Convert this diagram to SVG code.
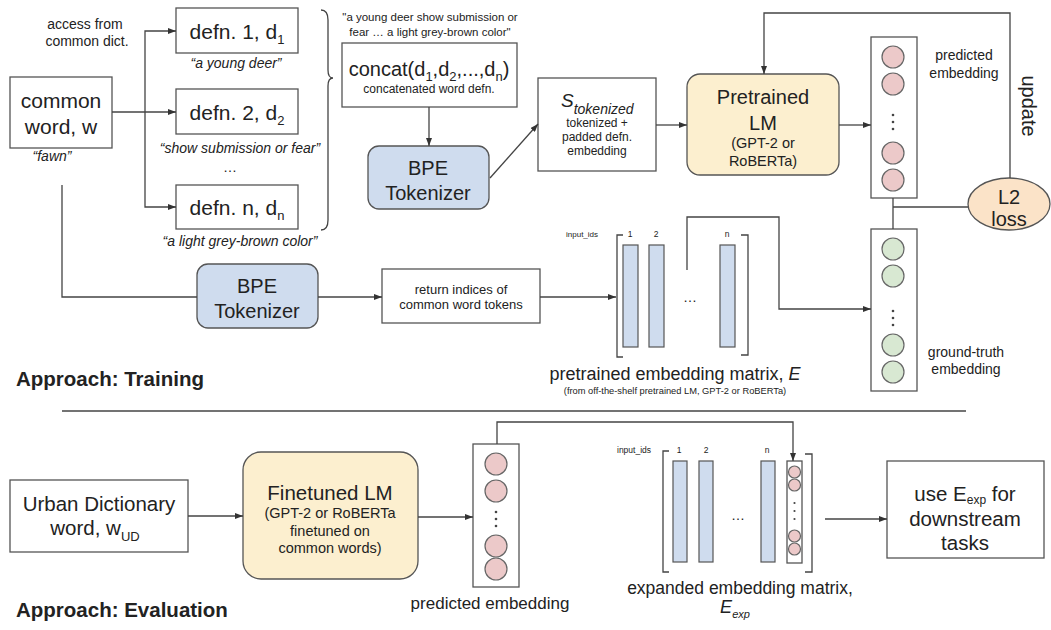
<svg xmlns="http://www.w3.org/2000/svg" width="1051" height="630" viewBox="0 0 1051 630">
<defs>
<marker id="arr" markerWidth="8" markerHeight="6" refX="8" refY="3" orient="auto" markerUnits="userSpaceOnUse"><path d="M0,0 L8,3 L0,6 z" fill="#333"/></marker>
<style>
text{font-family:"Liberation Sans",Arial,Helvetica,sans-serif;fill:#222}
.box{fill:#fff;stroke:#555;stroke-width:1.3}
.blue{fill:#cfdcee;stroke:#555;stroke-width:1.3}
.yel{fill:#fcefcf;stroke:#555;stroke-width:1.3}
.col{fill:#cfdcee;stroke:#555;stroke-width:1.2}
.pink{fill:#ecc9c9;stroke:#666;stroke-width:1.2}
.green{fill:#d8e8d2;stroke:#666;stroke-width:1.2}
.ln{fill:none;stroke:#444;stroke-width:1.3}
.arr{fill:none;stroke:#444;stroke-width:1.3;marker-end:url(#arr)}
.c{text-anchor:middle}
.big{font-size:21px}
.mid{font-size:14.5px}
.sm{font-size:14px}
.it{font-style:italic}
.dot{fill:#444}
</style>
</defs>

<!-- ================= TRAINING ================= -->
<g id="access-label">
<text class="c sm" x="85" y="29">access from</text>
<text class="c sm" x="87" y="46">common dict.</text>
</g>

<g id="common-word">
<rect class="box" x="10" y="77" width="102" height="71"/>
<text class="c big" x="61" y="108">common</text>
<text class="c big" x="61" y="134">word, w</text>
<text class="c sm it" x="52" y="161">“fawn”</text>
</g>

<g id="defn1">
<rect class="box" x="176" y="8" width="122" height="45"/>
<text class="c big" x="237" y="39">defn. 1, d<tspan font-size="13" dy="5">1</tspan></text>
<text class="c sm it" x="236" y="68">“a young deer”</text>
</g>
<g id="defn2">
<rect class="box" x="176" y="89" width="122" height="45"/>
<text class="c big" x="237" y="120">defn. 2, d<tspan font-size="13" dy="5">2</tspan></text>
<text class="c sm it" x="240" y="153">“show submission or fear”</text>
<text class="c sm" x="230" y="172">…</text>
</g>
<g id="defnn">
<rect class="box" x="176" y="185" width="122" height="44"/>
<text class="c big" x="237" y="215">defn. n, d<tspan font-size="13" dy="5">n</tspan></text>
<text class="c sm it" x="240" y="246">“a light grey-brown color”</text>
</g>

<g id="brace">
<path class="ln" d="M321,10 Q328,10 328,20 L328,70 Q328,78 333,78 Q328,78 328,86 L328,220 Q328,230 321,230"/>
</g>

<g id="concat">
<text class="c" font-size="11.5" x="430" y="21">"a young deer show submission or</text>
<text class="c" font-size="11.5" x="430" y="36">fear … a light grey-brown color"</text>
<rect class="box" x="342" y="43" width="175" height="64"/>
<text class="c" font-size="20" x="429" y="76">concat(d<tspan font-size="13" dy="5">1</tspan><tspan dy="-5">,d</tspan><tspan font-size="13" dy="5">2</tspan><tspan dy="-5">,...,d</tspan><tspan font-size="13" dy="5">n</tspan><tspan dy="-5">)</tspan></text>
<text class="c" font-size="12" x="429" y="93">concatenated word defn.</text>
</g>

<g id="bpe1">
<rect class="blue" x="368" y="146" width="121" height="63" rx="11"/>
<text class="c" font-size="20" x="428" y="175">BPE</text>
<text class="c" font-size="20" x="428" y="200">Tokenizer</text>
</g>

<g id="s-tokenized">
<rect class="box" x="538" y="78" width="118" height="93"/>
<text font-size="19" class="it" x="561" y="107">S<tspan font-size="14" dy="7">tokenized</tspan></text>
<text class="c" font-size="12" x="597" y="127">tokenized +</text>
<text class="c" font-size="12" x="597" y="141">padded defn.</text>
<text class="c" font-size="12" x="597" y="155">embedding</text>
</g>

<g id="pretrained-lm">
<rect class="yel" x="687" y="74" width="152" height="101" rx="13"/>
<text class="c" font-size="20" x="763" y="104">Pretrained</text>
<text class="c" font-size="20" x="763" y="130">LM</text>
<text class="c mid" x="763" y="148">(GPT-2 or</text>
<text class="c mid" x="763" y="166">RoBERTa)</text>
</g>

<g id="predicted-embedding">
<rect class="box" x="871" y="37" width="46" height="161"/>
<circle class="pink" cx="893" cy="57" r="11"/>
<circle class="pink" cx="893" cy="84" r="11"/>
<circle class="dot" cx="893" cy="115" r="1.3"/>
<circle class="dot" cx="893" cy="122" r="1.3"/>
<circle class="dot" cx="893" cy="129" r="1.3"/>
<circle class="pink" cx="893" cy="153" r="11"/>
<circle class="pink" cx="893" cy="180" r="11"/>
<text class="c sm" x="964" y="60">predicted</text>
<text class="c sm" x="964" y="78">embedding</text>
</g>

<g id="update-label">
<text class="c" font-size="20" transform="translate(1022,106) rotate(90)">update</text>
</g>

<g id="l2-loss">
<ellipse cx="1009" cy="204" rx="41" ry="26" fill="#fbe3c8" stroke="#555" stroke-width="1.3"/>
<text class="c" font-size="20" x="1009" y="204">L2</text>
<text class="c" font-size="20" x="1009" y="226">loss</text>
</g>

<g id="ground-truth-embedding">
<rect class="box" x="871" y="229" width="46" height="162"/>
<circle class="green" cx="893" cy="249" r="11"/>
<circle class="green" cx="893" cy="276" r="11"/>
<circle class="dot" cx="893" cy="311" r="1.3"/>
<circle class="dot" cx="893" cy="318" r="1.3"/>
<circle class="dot" cx="893" cy="325" r="1.3"/>
<circle class="green" cx="893" cy="345" r="11"/>
<circle class="green" cx="893" cy="372" r="11"/>
<text class="c sm" x="966" y="357">ground-truth</text>
<text class="c sm" x="966" y="374">embedding</text>
</g>

<g id="bpe2">
<rect class="blue" x="197" y="264" width="121" height="64" rx="11"/>
<text class="c" font-size="20" x="257" y="293">BPE</text>
<text class="c" font-size="20" x="257" y="318">Tokenizer</text>
</g>

<g id="return-indices">
<rect class="box" x="382" y="269" width="158" height="54"/>
<text class="c" font-size="13" x="461" y="294">return indices of</text>
<text class="c" font-size="13" x="461" y="309">common word tokens</text>
</g>

<g id="embedding-matrix">
<text font-size="8" x="566" y="237">input_ids</text>
<text class="c" font-size="8.5" x="630" y="237">1</text>
<text class="c" font-size="8.5" x="656" y="237">2</text>
<text class="c" font-size="8.5" x="727" y="237">n</text>
<path class="ln" d="M623,235 H617 V357 H623"/>
<path class="ln" d="M741,235 H748 V355 H741"/>
<rect class="col" x="623" y="245" width="15" height="102"/>
<rect class="col" x="649" y="245" width="15" height="102"/>
<rect class="col" x="720" y="245" width="15" height="102"/>
<text class="c" font-size="14" x="690" y="302">…</text>
<text class="c" font-size="18" x="675" y="380">pretrained embedding matrix, <tspan class="it">E</tspan></text>
<text class="c" font-size="9.3" x="675" y="394">(from off-the-shelf pretrained LM, GPT-2 or RoBERTa)</text>
</g>

<g id="training-title">
<text font-size="20.5" font-weight="bold" x="16" y="386">Approach: Training</text>
</g>

<!-- ================= EVALUATION ================= -->
<g id="ud-word">
<rect class="box" x="10" y="480" width="178" height="72"/>
<text class="c" font-size="20.5" x="99" y="511">Urban Dictionary</text>
<text class="c" font-size="20.5" x="95" y="535">word, w<tspan font-size="13" dy="6">UD</tspan></text>
</g>

<g id="finetuned-lm">
<rect class="yel" x="243" y="452" width="175" height="127" rx="18"/>
<text class="c" font-size="20.5" x="330" y="500">Finetuned LM</text>
<text class="c mid" x="330" y="518">(GPT-2 or RoBERTa</text>
<text class="c mid" x="330" y="536">finetuned on</text>
<text class="c mid" x="330" y="553">common words)</text>
</g>

<g id="predicted-embedding-eval">
<rect class="box" x="473" y="444" width="46" height="143"/>
<circle class="pink" cx="496" cy="464" r="11"/>
<circle class="pink" cx="496" cy="491" r="11"/>
<circle class="dot" cx="496" cy="512" r="1.3"/>
<circle class="dot" cx="496" cy="519" r="1.3"/>
<circle class="dot" cx="496" cy="526" r="1.3"/>
<circle class="pink" cx="496" cy="546" r="11"/>
<circle class="pink" cx="496" cy="569" r="11"/>
<text class="c" font-size="17" x="490" y="609">predicted embedding</text>
</g>

<g id="expanded-matrix">
<text font-size="8.5" x="617" y="453">input_ids</text>
<text class="c" font-size="8.5" x="679" y="453">1</text>
<text class="c" font-size="8.5" x="706" y="453">2</text>
<text class="c" font-size="8.5" x="767" y="453">n</text>
<path class="ln" d="M669,451 H663 V572 H669"/>
<path class="ln" d="M805,454 H812 V572 H805"/>
<rect class="col" x="673" y="461" width="14" height="101"/>
<rect class="col" x="699" y="461" width="14" height="101"/>
<rect class="col" x="761" y="461" width="14" height="101"/>
<rect class="box" x="787" y="461" width="15" height="102" stroke-width="1.2"/>
<circle class="pink" cx="794.5" cy="472" r="6"/>
<circle class="pink" cx="794.5" cy="485" r="6"/>
<circle class="dot" cx="794.5" cy="503" r="1.1"/>
<circle class="dot" cx="794.5" cy="511" r="1.1"/>
<circle class="dot" cx="794.5" cy="519" r="1.1"/>
<circle class="pink" cx="794.5" cy="536" r="6"/>
<circle class="pink" cx="794.5" cy="549" r="6"/>
<text class="c" font-size="14" x="738" y="520">…</text>
<text class="c" font-size="17.5" x="740" y="594">expanded embedding matrix,</text>
<text class="c it" font-size="18" x="735" y="613">E<tspan font-size="11" dy="5">exp</tspan></text>
</g>

<g id="use-eexp">
<rect class="box" x="887" y="461" width="157" height="97"/>
<text class="c" font-size="20.5" x="965" y="501">use E<tspan font-size="12" dy="3">exp</tspan><tspan dy="-3"> for</tspan></text>
<text class="c" font-size="20.5" x="965" y="526">downstream</text>
<text class="c" font-size="20.5" x="965" y="550">tasks</text>
</g>

<g id="evaluation-title">
<text font-size="20.5" font-weight="bold" x="16" y="617">Approach: Evaluation</text>
</g>

<!-- ================= CONNECTORS ================= -->
<g id="connectors">
<path class="arr" d="M112,112 H176"/>
<path class="arr" d="M145,112 V31 H176"/>
<path class="arr" d="M145,112 V207 H176"/>
<path class="arr" d="M429,107 V146"/>
<path class="arr" d="M490,178 L538,124"/>
<path class="arr" d="M656,125 H687"/>
<path class="arr" d="M839,125 H871"/>
<path class="arr" d="M1010,178 V13 H764 V74"/>
<path class="ln" d="M893,198 V229"/>
<path class="ln" d="M893,207 H968"/>
<path class="ln" d="M62,185 V297 H197"/>
<path class="arr" d="M318,297 H382"/>
<path class="arr" d="M540,297 H616"/>
<path class="arr" d="M687,270 V217 H779 V309 H871"/>
<path class="ln" d="M62,411 H966" stroke-width="1.5"/>
<path class="arr" d="M188,516 H243"/>
<path class="arr" d="M418,517 H473"/>
<path class="arr" d="M497,444 V422 H793 V461"/>
<path class="arr" d="M825,519 H887"/>
</g>
</svg>
